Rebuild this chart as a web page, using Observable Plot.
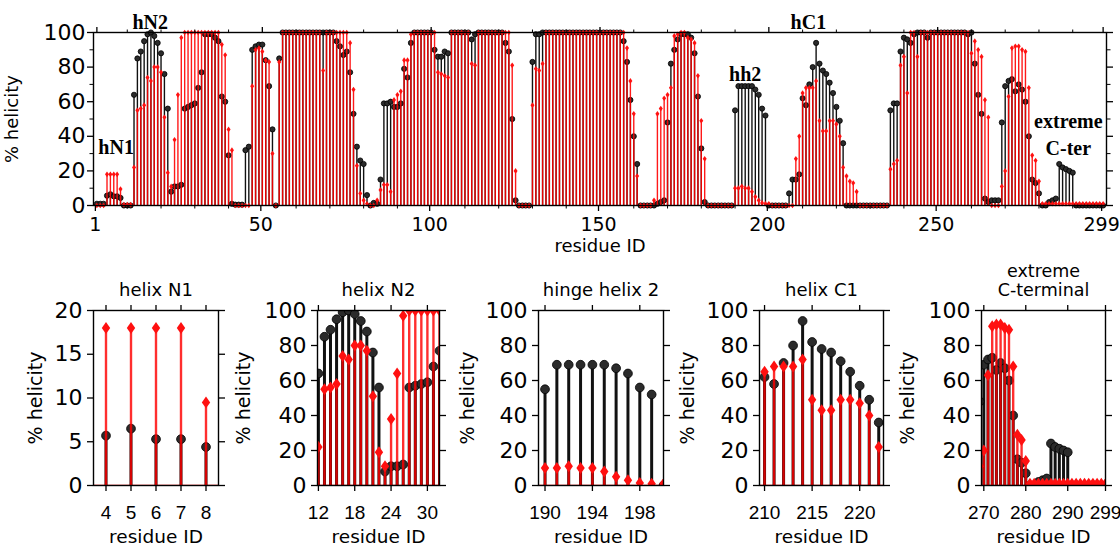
<!DOCTYPE html>
<html>
<head>
<meta charset="utf-8">
<script src="https://cdn.jsdelivr.net/npm/d3@7"></script>
<script src="https://cdn.jsdelivr.net/npm/@observablehq/plot@0.6"></script>
<style>
  html, body { margin: 0; padding: 0; background: #fff; }
  #root { position: relative; width: 1120px; height: 546px; overflow: hidden; background: #fff; }
  #root svg { position: absolute; overflow: visible; }
</style>
</head>
<body>
<div id="root"></div>
<script>
// ---------- data ----------
const residues = d3.range(1, 300); // residue IDs 1..299

// black series (% helicity), residues 1..299
const blackHelicity = [
  1,1,1,5.7,6.5,5.3,5.3,4.4,0,0,
  0,64,85,89,95,99,100,98,94,88,
  76,56,8,11,11,12,56,57,58,59,
  68,77,99,99,99,97,95,63,60,29,
  1,0.5,0.5,0.5,32,34,90,92,93,93,
  84,69,44,0,85,100,100,100,100,100,
  100,100,100,100,100,100,100,100,100,100,
  100,95,92,87,89,77,53,34,26,24,
  6,0,1.5,1,15,59,59,60,57,57,
  59,79,74,94,100,100,100,100,100,100,
  90,86,86,89,88,100,100,100,100,100,
  100,96,99,100,100,100,100,100,100,100,
  100,94,89,50,3,0,0,0,0,83,
  99,99,100,100,100,100,100,100,100,100,
  100,100,100,100,100,100,100,100,100,100,
  100,100,100,100,100,100,95,83,61,40,
  24,0,0,0,0,0,1,2,3,48,
  82,90,96,99,99,99,97,88,63,33,
  2,0,0,0,0,0,0,0,0,55,
  69,69,69,69,69,67,64,56,52,0,
  0,0,0,0,0,7,15,15,18,62,
  58,70,80,94,82,78,76,71,65,57,
  49,36,0,0,0,0,0,0,0,0,
  0,0,0,0,0,55,59,59,89,97,
  96,94,99,100,100,100,97,100,100,100,
  100,100,100,100,100,100,100,100,99,100,
  82,64,53,4,2,3,3,3,48,69,
  72,73,66,70,67,60,40,15,13,7,
  0,0,2,3,4,24,22,21,20,19,
  0,0,0,0,0,0,0,0,0
];

// red series (% helicity), residues 1..299
const redHelicity = [
  0,0,0,18,18,18,18,9.5,0.5,0.5,
  0.5,22,55,56,58,74,72,80,80,77,
  51,19,11,38,64,97,100,100,100,100,
  100,100,100,100,100,100,100,93,87,44,
  32,0,0,0,0,0,69,90,91,89,
  84,83,30,0,83,100,100,100,100,100,
  100,100,100,100,100,100,100,78,100,100,
  100,100,100,100,100,94,67,23,7,3,
  1,0,0,3,9,12,12,8,61,64,
  66,84,84,99,100,100,100,100,100,100,
  100,77,76,75,74,100,100,100,100,100,
  100,82,81,100,100,100,100,100,100,100,
  100,100,100,81,20,0,0,0,0,58,
  79,78,82,100,100,100,100,100,100,100,
  100,100,100,100,100,100,100,100,100,100,
  100,100,100,100,100,100,100,91,72,53,
  17,0,0,0,0,3,53,56,62,64,
  68,98,99,100,100,97,96,94,75,49,
  27,0,0,0,0,0,0,0,0,10,
  10,11,10,10,8,5,3,1.5,1,1,
  0,0,0,0,0,0,0,27,40,65,
  68,68,68,72,49,43,43,49,49,47,
  40,22,17,14,13,8,0,0,0,0,
  0,0,0,0,0,21,24,26,81,86,
  65,100,100,86,100,100,100,100,100,100,
  100,100,100,100,100,100,100,100,100,88,
  95,90,86,61,51,0,0,0,11,20,
  63,91,92,92,90,89,68,29,26,14,
  1,1,1,1,1,1,1,1,1,1,
  1,1,1,1,1,1,1,1,1
];

// main panel tick labels
const mainXTicks = [1, 50, 100, 150, 200, 250, 299];
const mainYTicks = [0, 20, 40, 60, 80, 100];

// helix annotations in the main panel (text, anchor residue, anchor helicity)
const helixLabels = ["hN1", "hN2", "hh2", "hC1", "extreme\nC-ter"];
const helixLabelResidue = [6.7, 16.8, 193, 211.7, 288.7];
const helixLabelHelicity = [35, 107, 77, 107, 42];

// zoom panels
const panelTitles = ["helix N1", "helix N2", "hinge helix 2", "helix C1", "extreme\nC-terminal"];
const panelXDomains = [[3.5, 8.5], [11.85, 32], [189.45, 200], [209.47, 222.5], [269.45, 299]];
const panelXTicks = [[4, 5, 6, 7, 8], [12, 18, 24, 30], [190, 194, 198], [210, 215, 220], [270, 280, 290, 299]];
const panelYMax = [20, 100, 100, 100, 100];
const panelYTicks = [[0, 5, 10, 15, 20], [0, 20, 40, 60, 80, 100], [0, 20, 40, 60, 80, 100], [0, 20, 40, 60, 80, 100], [0, 20, 40, 60, 80, 100]];

// ---------- build ----------
const table = residues.map((res, i) => ({res, black: blackHelicity[i], red: redHelicity[i]}));

const thinDiamond = {
  draw(ctx, size) {
    const k = 0.7;
    const a = Math.sqrt(size / (2 * k));
    const b = k * a;
    ctx.moveTo(0, -a); ctx.lineTo(b, 0); ctx.lineTo(0, a); ctx.lineTo(-b, 0); ctx.closePath();
  }
};

const FONT = "'DejaVu Sans', 'Liberation Sans', sans-serif";
const ARIAL = "'Liberation Sans', Arial, sans-serif";
const root = document.getElementById("root");

function place(svg, left, top) {
  svg.style.left = left + "px";
  svg.style.top = top + "px";
  root.appendChild(svg);
}

function stemMarks(data, o) {
  return [
    Plot.ruleY([0], {stroke: "#ff0000", strokeWidth: o.baseW, clip: o.clip}),
    Plot.ruleX(data, {x: "res", y1: 0, y2: "black", stroke: "#111", strokeWidth: o.blackW, clip: o.clip}),
    Plot.dot(data, {x: "res", y: "black", r: o.dotR, fill: "#2b2b2b", stroke: "#000", strokeWidth: 0.8, clip: o.clip}),
    Plot.ruleX(data, {x: "res", y1: 0, y2: "red", stroke: "#ff0000", strokeWidth: o.redW, strokeOpacity: o.redOpacity, clip: o.clip}),
    Plot.dot(data, {x: "res", y: "red", r: o.diaR, symbol: thinDiamond, fill: "#ff1010", clip: o.clip})
  ];
}

function frameAxes(o) {
  const marks = [
    Plot.frame({stroke: "#000", strokeWidth: 1.4}),
    Plot.axisX({anchor: "bottom", ticks: o.xTicks, tickSize: 6, tickPadding: o.xPad, fontSize: o.xFont, fontFamily: o.xFamily, label: null, tickFormat: d => String(d), strokeWidth: 1.3, dx: o.xDx || 0}),
    Plot.axisX({anchor: "top", ticks: o.xTicks, tickSize: 6, tickFormat: () => "", label: null, strokeWidth: 1.3}),
    Plot.axisY({anchor: "left", ticks: o.yTicks, tickSize: 6, tickPadding: o.yPad, fontSize: o.yFont, label: null, tickFormat: d => String(d), strokeWidth: 1.3}),
    Plot.axisY({anchor: "right", ticks: o.yTicks, tickSize: 6, tickFormat: () => "", label: null, strokeWidth: 1.3})
  ];
  if (o.xMinor) {
    marks.push(Plot.axisX({anchor: "bottom", ticks: o.xMinor, tickSize: 3.5, tickFormat: () => "", label: null}));
    marks.push(Plot.axisX({anchor: "top", ticks: o.xMinor, tickSize: 3.5, tickFormat: () => "", label: null}));
  }
  if (o.yMinor) {
    marks.push(Plot.axisY({anchor: "left", ticks: o.yMinor, tickSize: 3.5, tickFormat: () => "", label: null}));
    marks.push(Plot.axisY({anchor: "right", ticks: o.yMinor, tickSize: 3.5, tickFormat: () => "", label: null}));
  }
  return marks;
}

const centered = {textAnchor: "middle", lineAnchor: "middle"};

// ---------- main panel ----------
{
  const annot = helixLabels.map((t, i) => ({t, x: helixLabelResidue[i], y: helixLabelHelicity[i]}));
  const mainSvg = Plot.plot({
    width: 1120, height: 262,
    marginLeft: 93, marginRight: 14, marginTop: 32, marginBottom: 57,
    x: {domain: [0, 300]},
    y: {domain: [0, 100]},
    style: {fontFamily: FONT, color: "#000", background: "transparent", overflow: "visible"},
    marks: [
      ...stemMarks(table, {baseW: 1.2, blackW: 1.4, redW: 1.4, redOpacity: 0.9, dotR: 2.6, diaR: 1.9, clip: false}),
      ...frameAxes({
        xTicks: mainXTicks, yTicks: mainYTicks, xPad: 6, yPad: 2, xFont: 19, yFont: 22, xFamily: FONT, xDx: -1.5,
        xMinor: d3.range(10, 300, 10).filter(v => v % 50 !== 0),
        yMinor: [10, 30, 50, 70, 90]
      }),
      Plot.text(["residue ID"], {text: d => d, frameAnchor: "bottom", dy: 41, fontSize: 18, ...centered}),
      Plot.text(["% helicity"], {text: d => d, frameAnchor: "left", dx: -81, rotate: -90, fontSize: 18, ...centered}),
      Plot.text(annot, {x: "x", y: "y", text: "t", fontFamily: "'Liberation Serif', 'DejaVu Serif', serif", fontWeight: "bold", fontSize: 20, lineHeight: 1.35})
    ]
  });
  place(mainSvg, 0, 0);
}

// ---------- zoom panels ----------
const frameLefts = [93, 317, 538, 759, 981];
const frameWidths = [125, 122, 125, 124, 124];
const yLabelOffsets = [-58, -74, -71, -72, -74];
const PTOP = 262, PH = 546 - 262, MT = 48, MB = 61, ML = 90, MR = 22;

panelTitles.forEach((title, i) => {
  const [lo, hi] = panelXDomains[i];
  const data = table.filter(d => d.res >= lo - 0.6 && d.res <= hi + 0.6);
  const twoLines = title.includes("\n");
  const svg = Plot.plot({
    width: frameWidths[i] + ML + MR, height: PH,
    marginLeft: ML, marginRight: MR, marginTop: MT, marginBottom: MB,
    x: {domain: panelXDomains[i]},
    y: {domain: [0, panelYMax[i]]},
    style: {fontFamily: FONT, color: "#000", background: "transparent", overflow: "visible"},
    marks: [
      ...stemMarks(data, {baseW: 1.6, blackW: 3, redW: 2.4, redOpacity: 0.82, dotR: 4.4, diaR: 4.0, clip: true}),
      ...frameAxes({xTicks: panelXTicks[i], yTicks: panelYTicks[i], xPad: 14, yPad: 5, xFont: 19, yFont: 22, xFamily: ARIAL}),
      Plot.text(["residue ID"], {text: d => d, frameAnchor: "bottom", dy: 52, fontSize: 18.5, ...centered}),
      Plot.text(["% helicity"], {text: d => d, frameAnchor: "left", dx: yLabelOffsets[i], rotate: -90, fontSize: 19, ...centered}),
      Plot.text([title], {text: d => d, frameAnchor: "top", dy: twoLines ? -30 : -20, fontSize: twoLines ? 17.5 : 18, lineHeight: twoLines ? 1.08 : 1.0, ...centered})
    ]
  });
  place(svg, frameLefts[i] - ML, PTOP);
});
</script>
</body>
</html>
